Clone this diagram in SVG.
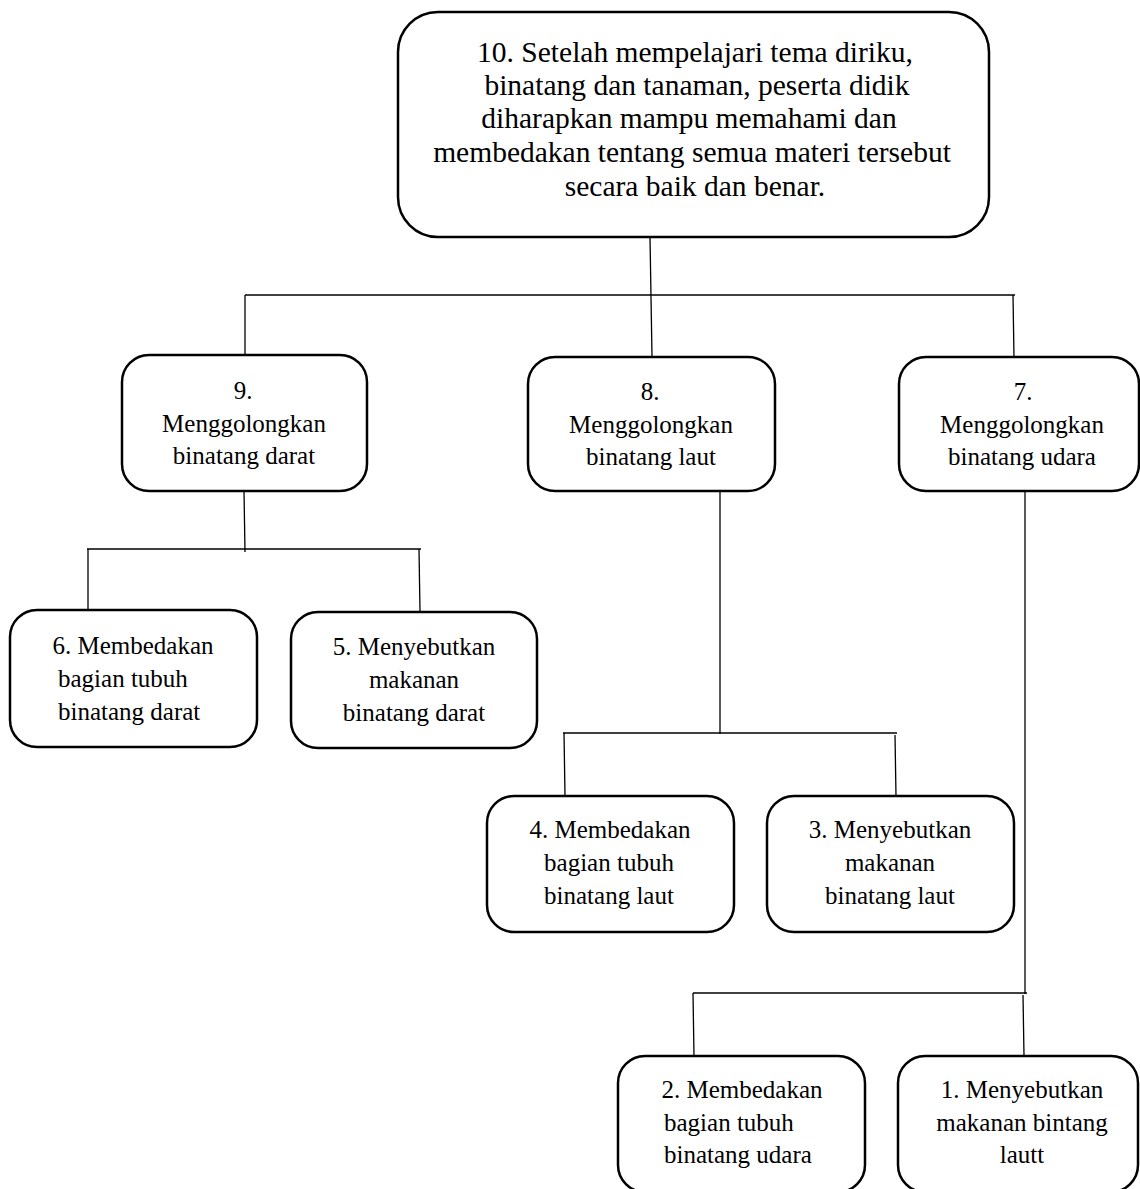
<svg xmlns="http://www.w3.org/2000/svg" width="1140" height="1189" viewBox="0 0 1140 1189">
<style>
.box{fill:#fff;stroke:#000;stroke-width:2.5}
.ln{fill:none;stroke:#000;stroke-width:1.3}
text{font-family:"Liberation Serif","Times New Roman",serif;fill:#000}
.t{font-size:25px}
.big{font-size:29.5px}
.m{text-anchor:middle}
</style>
<rect width="1140" height="1189" fill="#fff"/>
<g id="connectors">
<path class="ln" d="M650 237 L652 356"/>
<path class="ln" d="M245 295 L1015 295"/>
<path class="ln" d="M245 295 L245 356"/>
<path class="ln" d="M1013 295 L1014 358"/>
<path class="ln" d="M244 491 L245 552"/>
<path class="ln" d="M87 549 L421 549"/>
<path class="ln" d="M88 549 L88 611"/>
<path class="ln" d="M419 549 L420 612"/>
<path class="ln" d="M720 491 L720 734"/>
<path class="ln" d="M563 733 L897 733"/>
<path class="ln" d="M564 733 L565 796"/>
<path class="ln" d="M895 735 L896 796"/>
<path class="ln" d="M1025 491 L1025 994"/>
<path class="ln" d="M693 993 L1027 993"/>
<path class="ln" d="M693 993 L694 1056"/>
<path class="ln" d="M1023 995 L1024 1056"/>
</g>
<g id="n10">
<rect class="box" x="398" y="12" width="591" height="225" rx="40"/>
<text class="big m" x="695" y="62">10. Setelah mempelajari tema diriku,</text>
<text class="big m" x="697" y="95">binatang dan tanaman, peserta didik</text>
<text class="big m" x="689" y="128">diharapkan mampu memahami dan</text>
<text class="big m" x="692" y="162">membedakan tentang semua materi tersebut</text>
<text class="big m" x="695" y="196">secara baik dan benar.</text>
</g>
<g id="n9">
<rect class="box" x="122" y="355" width="245" height="136" rx="27"/>
<text class="t m" x="243" y="399">9.</text>
<text class="t m" x="244" y="432">Menggolongkan</text>
<text class="t m" x="244" y="464">binatang darat</text>
</g>
<g id="n8">
<rect class="box" x="528" y="357" width="247" height="134" rx="27"/>
<text class="t m" x="650" y="400">8.</text>
<text class="t m" x="651" y="433">Menggolongkan</text>
<text class="t m" x="651" y="465">binatang laut</text>
</g>
<g id="n7">
<rect class="box" x="899" y="357" width="240" height="134" rx="27"/>
<text class="t m" x="1023" y="400">7.</text>
<text class="t m" x="1022" y="433">Menggolongkan</text>
<text class="t m" x="1022" y="465">binatang udara</text>
</g>
<g id="n6">
<rect class="box" x="10" y="610" width="247" height="137" rx="27"/>
<text class="t m" x="133" y="654">6. Membedakan</text>
<text class="t" x="58" y="687">bagian tubuh</text>
<text class="t" x="58" y="720">binatang darat</text>
</g>
<g id="n5">
<rect class="box" x="291" y="612" width="246" height="136" rx="27"/>
<text class="t m" x="414" y="655">5. Menyebutkan</text>
<text class="t m" x="414" y="688">makanan</text>
<text class="t m" x="414" y="721">binatang darat</text>
</g>
<g id="n4">
<rect class="box" x="487" y="796" width="247" height="136" rx="27"/>
<text class="t m" x="610" y="838">4. Membedakan</text>
<text class="t m" x="609" y="871">bagian tubuh</text>
<text class="t m" x="609" y="904">binatang laut</text>
</g>
<g id="n3">
<rect class="box" x="767" y="796" width="247" height="136" rx="27"/>
<text class="t m" x="890" y="838">3. Menyebutkan</text>
<text class="t m" x="890" y="871">makanan</text>
<text class="t m" x="890" y="904">binatang laut</text>
</g>
<g id="n2">
<rect class="box" x="618" y="1056" width="247" height="136" rx="27"/>
<text class="t m" x="742" y="1098">2. Membedakan</text>
<text class="t" x="664" y="1131">bagian tubuh</text>
<text class="t" x="664" y="1163">binatang udara</text>
</g>
<g id="n1">
<rect class="box" x="898" y="1056" width="240" height="136" rx="27"/>
<text class="t m" x="1022" y="1098">1. Menyebutkan</text>
<text class="t m" x="1022" y="1131">makanan bintang</text>
<text class="t m" x="1022" y="1163">lautt</text>
</g>
</svg>
